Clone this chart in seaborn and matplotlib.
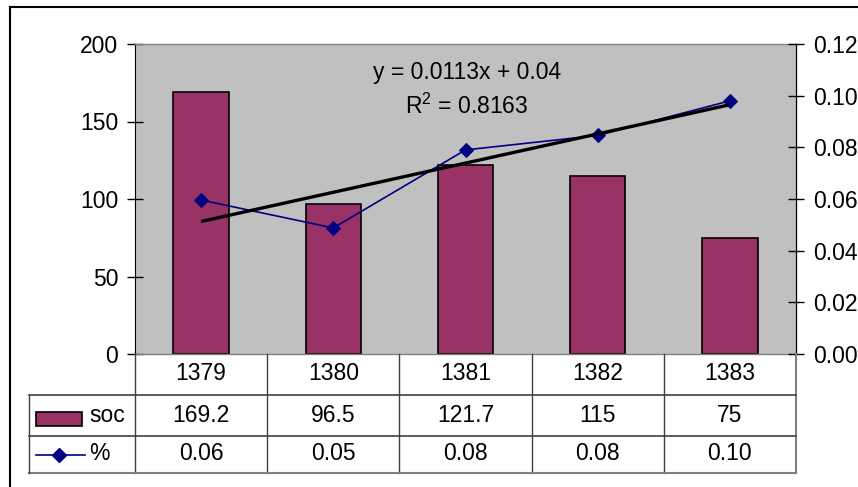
import numpy as np
import pandas as pd
import matplotlib
matplotlib.use("Agg")
import matplotlib.pyplot as plt
from matplotlib.lines import Line2D
from matplotlib.patches import Rectangle
from matplotlib.transforms import blended_transform_factory
import seaborn as sns

# ---- data ----
years = ["1379", "1380", "1381", "1382", "1383"]
soc = [169.2, 96.5, 121.7, 115, 75]
pct = [0.0596, 0.0488, 0.0790, 0.0846, 0.0980]
soc_labels = ["169.2", "96.5", "121.7", "115", "75"]
trend_slope = 0.0113
trend_intercept = 0.04
r_squared = 0.8163

BAR = "#993366"
LINE = "#000080"
BG = "#C0C0C0"
FS = 16.5

plt.rcParams["font.family"] = ["Liberation Sans", "DejaVu Sans"]
plt.rcParams["mathtext.fontset"] = "custom"
plt.rcParams["mathtext.rm"] = "Liberation Sans"
plt.rcParams["mathtext.it"] = "Liberation Sans"

W, H = 858, 487
fig = plt.figure(figsize=(W / 100, H / 100), dpi=100)


def fx(px):
    return px / W


def fy(py):
    return 1 - py / H


# plot area in pixels: left 135, right 796, top 44, bottom 354
ax = fig.add_axes([fx(135), fy(354), fx(796 - 135), (354 - 44) / H])
ax.set_facecolor(BG)

df = pd.DataFrame({"year": years, "soc": soc, "pct": pct})
sns.barplot(data=df, x="year", y="soc", order=years, ax=ax, color=BAR,
            saturation=1, width=0.42, edgecolor="black", linewidth=1.2, zorder=2)
ax.set_xlim(-0.5, len(years) - 0.5)
ax.set_ylim(0, 200)
ax.set_yticks([0, 50, 100, 150, 200])
ax.set_xticks([])
ax.set_xlabel("")
ax.set_ylabel("")
ax.tick_params(axis="y", direction="inout", length=12, width=1, pad=6,
               labelsize=FS, colors="black")
for side in ["top", "right", "bottom"]:
    ax.spines[side].set_color("#808080")
    ax.spines[side].set_linewidth(1)
ax.spines["left"].set_color("black")

ax2 = ax.twinx()
pos = np.arange(len(years))
sns.lineplot(x=pos, y=pct, ax=ax2, color=LINE, marker="D", markersize=7.5,
             markeredgecolor=LINE, linewidth=1.2, zorder=3)
trend = trend_slope * (pos + 1) + trend_intercept
ax2.plot(pos, trend, color="black", linewidth=2.4, zorder=4, solid_capstyle="butt")
ax2.set_ylim(0, 0.12)
ticks_r = np.arange(0, 0.121, 0.02)
ax2.set_yticks(ticks_r)
ax2.set_yticklabels([f"{v:.2f}" for v in ticks_r])
ax2.tick_params(axis="y", direction="inout", length=12, width=1, pad=6,
                labelsize=FS, colors="black")
ax2.set_xlim(-0.5, len(years) - 0.5)
for side in ["top", "left", "bottom"]:
    ax2.spines[side].set_visible(False)
ax2.spines["right"].set_color("black")

# trendline equation
ax.text(fx(467), fy(73), f"y = {trend_slope:.4f}x + {trend_intercept:.2f}",
        transform=fig.transFigure, ha="center", va="center", fontsize=FS)
ax.text(fx(467), fy(106), f"R$^2$ = {r_squared:.4f}",
        transform=fig.transFigure, ha="center", va="center", fontsize=FS)

# ---- data table below the plot ----
tr = blended_transform_factory(ax.transData, fig.transFigure)
table_color = "#404040"
n = len(years)

# vertical grid lines at category boundaries
for b in np.arange(-0.5, n, 1.0):
    last = b == n - 0.5
    fig.add_artist(Line2D([b, b], [fy(354), fy(473)], transform=tr,
                          color="#808080" if last else table_color,
                          linewidth=1.5 if last else 1.0))
# horizontal lines spanning legend column and data columns
x_right = ax.transData.transform((n - 0.5, 0))[0] / W
for ypx, col, lw in [(395, table_color, 1.2), (436, table_color, 1.2), (473, "#808080", 1.5)]:
    fig.add_artist(Line2D([fx(29), x_right], [fy(ypx), fy(ypx)],
                          transform=fig.transFigure, color=col, linewidth=lw))
# left edge of legend cells
fig.add_artist(Line2D([fx(29), fx(29)], [fy(395), fy(473)], transform=fig.transFigure,
                      color=table_color, linewidth=1.0))

for i, yr in enumerate(years):
    fig.text(i, fy(374), yr, transform=tr, ha="center", va="center", fontsize=FS)
    fig.text(i, fy(415), soc_labels[i], transform=tr, ha="center", va="center", fontsize=FS)
    fig.text(i, fy(454), f"{pct[i]:.2f}", transform=tr, ha="center", va="center", fontsize=FS)

# legend keys inside the table
fig.add_artist(Rectangle((fx(36), fy(426)), fx(82 - 36), (426 - 412) / H,
                         transform=fig.transFigure, facecolor=BAR,
                         edgecolor="black", linewidth=1.2))
fig.text(fx(89), fy(416), "soc", ha="left", va="center", fontsize=FS)
fig.add_artist(Line2D([fx(36), fx(85)], [fy(455), fy(455)], transform=fig.transFigure,
                      color=LINE, linewidth=1.2))
fig.add_artist(Line2D([fx(59)], [fy(455)], transform=fig.transFigure, color=LINE,
                      marker="D", markersize=7.5, linestyle="none"))
fig.text(fx(89), fy(453), "%", ha="left", va="center", fontsize=FS)

# chart frame (top and left edges)
fig.add_artist(Line2D([fx(10), fx(10)], [fy(7), 0], transform=fig.transFigure,
                      color="black", linewidth=1.5))
fig.add_artist(Line2D([fx(10), 1], [fy(7), fy(7)], transform=fig.transFigure,
                      color="black", linewidth=1.5))

fig.savefig("out.png", dpi=100)
